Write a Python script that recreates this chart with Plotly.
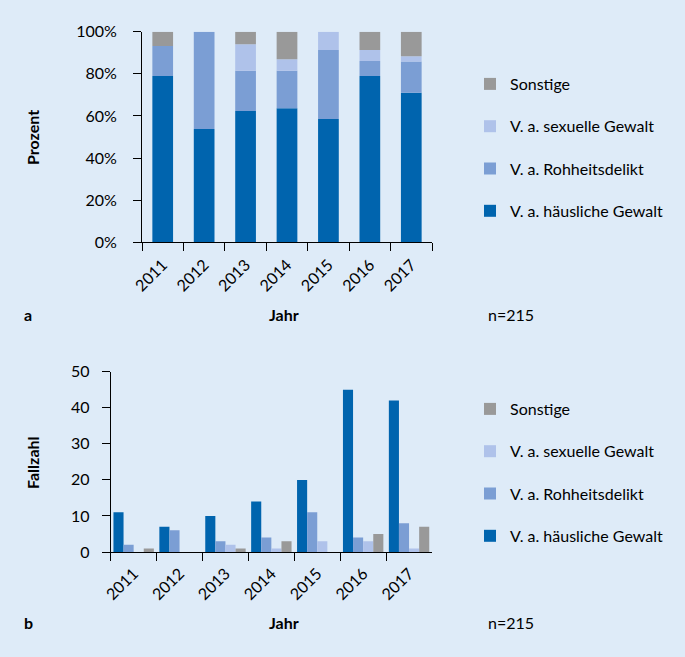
import plotly.graph_objects as go

years = ["2011", "2012", "2013", "2014", "2015", "2016", "2017"]
series_names = ["V. a. häusliche Gewalt", "V. a. Rohheitsdelikt", "V. a. sexuelle Gewalt", "Sonstige"]
colors = ["#0064AE", "#7B9ED4", "#AFC2EA", "#999999"]
legend_ranks = [4, 3, 2, 1]

# Panel a: percentages (stacked)
pct_haeuslich = [79.0, 53.8, 62.3, 63.6, 58.5, 79.0, 71.0]
pct_rohheit = [14.2, 46.2, 19.2, 17.9, 32.8, 7.1, 14.9]
pct_sexuell = [0.0, 0.0, 12.6, 5.4, 8.7, 5.2, 2.5]
pct_sonstige = [6.8, 0.0, 5.9, 13.1, 0.0, 8.7, 11.6]
pct_ticks = [0, 20, 40, 60, 80, 100]
pct_ticktext = ["0%", "20%", "40%", "60%", "80%", "100%"]

# Panel b: case counts (grouped)
n_haeuslich = [11, 7, 10, 14, 20, 45, 42]
n_rohheit = [2, 6, 3, 4, 11, 4, 8]
n_sexuell = [0, 0, 2, 1, 3, 3, 1]
n_sonstige = [1, 0, 1, 3, 0, 5, 7]
n_ticks = [0, 10, 20, 30, 40, 50]

W, H = 685, 657
FONT = "Lato"
fs = 16
bg = "#DEEBF8"

def px(x):
    return x / W

def py(y):
    return 1 - y / H

fig = go.Figure()

pct = [pct_haeuslich, pct_rohheit, pct_sexuell, pct_sonstige]
base = [0.0] * len(years)
for name, vals, col, rk in zip(series_names, pct, colors, legend_ranks):
    fig.add_trace(go.Bar(
        x=years, y=vals, base=list(base), name=name,
        marker=dict(color=col, line=dict(width=0)),
        width=0.5, offset=-0.25, legendrank=rk,
        xaxis="x", yaxis="y", legend="legend", legendgroup=name + "a",
    ))
    base = [b + v for b, v in zip(base, vals)]

cnt = [n_haeuslich, n_rohheit, n_sexuell, n_sonstige]
for i, (name, vals, col, rk) in enumerate(zip(series_names, cnt, colors, legend_ranks)):
    fig.add_trace(go.Bar(
        x=years, y=vals, name=name,
        marker=dict(color=col, line=dict(width=0)),
        offsetgroup=str(i), legendrank=rk,
        xaxis="x2", yaxis="y2", legend="legend2", legendgroup=name + "b",
    ))

axis_common = dict(
    showline=True, linecolor="black", linewidth=1,
    ticks="outside", ticklen=8, tickcolor="black", tickwidth=1,
    showgrid=False, zeroline=False, automargin=False,
    tickfont=dict(family=FONT, size=fs, color="black"),
)

legend_common = dict(
    traceorder="grouped", tracegroupgap=18.5,
    font=dict(family=FONT, size=fs, color="black"),
    bgcolor="rgba(0,0,0,0)", xanchor="left", yanchor="top",
)

fig.update_layout(
    width=W, height=H,
    margin=dict(l=0, r=0, t=0, b=0, autoexpand=False),
    paper_bgcolor=bg, plot_bgcolor=bg,
    barmode="group", bargap=0.12,
    font=dict(family=FONT, size=fs, color="black"),
    xaxis=dict(domain=[px(142), px(432)], anchor="y", type="category",
               tickson="boundaries", tickangle=-45, ticklabelstandoff=6, **axis_common),
    yaxis=dict(domain=[py(242.3), py(31.7)], anchor="x", range=[0, 100],
               tickmode="array", tickvals=pct_ticks, ticktext=pct_ticktext,
               ticklabelstandoff=13, **axis_common),
    xaxis2=dict(domain=[px(110.7), px(432)], anchor="y2", type="category",
                tickson="boundaries", tickangle=-45, ticklabelstandoff=5, **axis_common),
    yaxis2=dict(domain=[py(552), py(371.7)], anchor="x2", range=[0, 50],
                tickmode="array", tickvals=n_ticks, ticklabelstandoff=9, **axis_common),
    legend=dict(x=px(470), y=py(67), **legend_common),
    legend2=dict(x=px(470), y=py(392), **legend_common),
    showlegend=True,
)

def ann(text, x, y, bold=False, angle=0):
    fig.add_annotation(
        text=f"<b>{text}</b>" if bold else text,
        x=px(x), y=py(y), xref="paper", yref="paper",
        showarrow=False, textangle=angle,
        font=dict(family=FONT, size=fs, color="black"),
        xanchor="center", yanchor="middle",
    )

ann("Prozent", 32, 137, bold=True, angle=-90)
ann("a", 28, 314, bold=True)
ann("Jahr", 284, 314, bold=True)
ann("n=215", 511, 314)
ann("Fallzahl", 32, 462, bold=True, angle=-90)
ann("b", 28, 622, bold=True)
ann("Jahr", 284, 622, bold=True)
ann("n=215", 511, 622)

fig.write_html(
    "out.html",
    config={"displayModeBar": False},
    post_script="document.body.style.margin='0';document.body.style.overflow='hidden';document.body.style.background='" + bg + "';",
)
